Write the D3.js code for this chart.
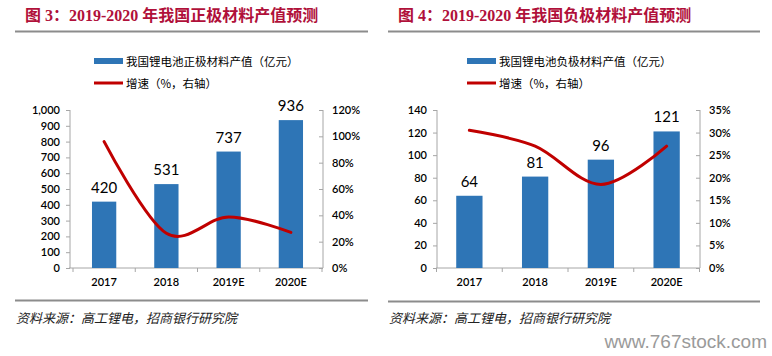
<!DOCTYPE html>
<html>
<head>
<meta charset="utf-8">
<script src="https://cdn.jsdelivr.net/npm/d3@7"></script>
<style>
  html, body { margin: 0; padding: 0; background: #fff; }
  svg { display: block; }
</style>
</head>
<body>
<svg id="chart" width="772" height="356"></svg>
<script>
// ---------- data ----------
const years = ["2017", "2018", "2019E", "2020E"];

const cathodeTitle = "图 3：2019-2020 年我国正极材料产值预测";
const cathodeBarName = "我国锂电池正极材料产值（亿元）";
const cathodeValues = [420, 531, 737, 936];
const cathodeGrowth = [96, 26.4, 38.8, 27];
const cathodeLeftTicks = [0, 100, 200, 300, 400, 500, 600, 700, 800, 900, 1000];
const cathodeRightTicks = [0, 20, 40, 60, 80, 100, 120];

const anodeTitle = "图 4：2019-2020 年我国负极材料产值预测";
const anodeBarName = "我国锂电池负极材料产值（亿元）";
const anodeValues = [64, 81, 96, 121];
const anodeGrowth = [30.5, 27, 18.5, 27];
const anodeLeftTicks = [0, 20, 40, 60, 80, 100, 120, 140];
const anodeRightTicks = [0, 5, 10, 15, 20, 25, 30, 35];

const lineName = "增速（%，右轴）";
const sourceText = "资料来源：高工锂电，招商银行研究院";
const watermark = "www.767stock.com";

// ---------- drawing ----------
const svg = d3.select("#chart");
const numFont = "Lato, 'Noto Sans CJK SC', sans-serif";
const cjkFont = "'Noto Sans CJK SC', sans-serif";
const BLUE = "#2E75B6";
const RED = "#C00000";
const AXIS = "#A6A6A6";

function drawPanel(cfg) {
  const g = svg.append("g");
  const top = 110, bottom = 268;

  // title
  g.append("text")
    .attr("x", cfg.titleX).attr("y", 21)
    .attr("font-family", "'Liberation Serif', 'Noto Sans CJK SC', serif")
    .attr("font-weight", "bold").attr("font-size", 16)
    .attr("fill", "#B0103A")
    .text(cfg.title);
  g.append("line")
    .attr("x1", cfg.ruleX1).attr("x2", cfg.ruleX2)
    .attr("y1", 31.5).attr("y2", 31.5)
    .attr("stroke", "#8C8C8C").attr("stroke-width", 1.8);
  g.append("line")
    .attr("x1", cfg.ruleX1).attr("x2", cfg.ruleX2)
    .attr("y1", cfg.footY).attr("y2", cfg.footY)
    .attr("stroke", "#8C8C8C").attr("stroke-width", 1.8);
  g.append("text")
    .attr("x", cfg.ruleX1 + 1).attr("y", 322.5)
    .attr("font-family", cjkFont).attr("font-style", "italic")
    .attr("font-size", 13).attr("fill", "#222")
    .text(sourceText);

  // scales
  const x = d3.scaleBand().domain(years).range(cfg.xRange).paddingInner(cfg.pad).paddingOuter(cfg.pad / 2);
  const xb = d3.scaleBand().domain(years).range(cfg.xRange);
  const yL = d3.scaleLinear().domain([0, d3.max(cfg.leftTicks)]).range([bottom, top]);
  const yR = d3.scaleLinear().domain([0, d3.max(cfg.rightTicks)]).range([bottom, top]);

  // left axis
  const axL = g.append("g").attr("transform", `translate(${cfg.axisL},0)`)
    .call(d3.axisLeft(yL).tickValues(cfg.leftTicks).tickSize(4).tickPadding(6)
      .tickFormat(d3.format(",")));
  // right axis
  const axR = g.append("g").attr("transform", `translate(${cfg.axisR},0)`)
    .call(d3.axisRight(yR).tickValues(cfg.rightTicks).tickSize(0).tickPadding(9)
      .tickFormat(d => d + "%"));
  axR.selectAll(".tick").append("line").attr("x1", -4).attr("x2", 0).attr("stroke", AXIS);
  // x axis
  const axX = g.append("g").attr("transform", `translate(0,${bottom})`)
    .call(d3.axisBottom(xb).tickSize(0).tickPadding(10));
  [axL, axR, axX].forEach(a => {
    a.select(".domain").attr("stroke", AXIS);
    a.selectAll(".tick line").attr("stroke", AXIS);
    a.selectAll("text").attr("font-family", numFont).attr("font-size", 11)
      .attr("font-weight", 600).attr("fill", "#000");
  });
  axL.select(".domain").attr("d", `M0,${top}V${bottom}`);
  axR.select(".domain").attr("d", `M0,${top}V${bottom}`);
  axX.select(".domain").attr("d", `M${cfg.axisL - 1},0H${cfg.axisR}`);
  // x band boundary ticks
  axX.selectAll(".bound").data(years.concat(["end"])).enter().append("line")
    .attr("x1", (d, i) => cfg.xRange[0] + i * xb.step())
    .attr("x2", (d, i) => cfg.xRange[0] + i * xb.step())
    .attr("y1", 0).attr("y2", 4).attr("stroke", AXIS);

  // bars
  g.selectAll(".bar").data(cfg.values).enter().append("rect")
    .attr("x", (d, i) => x(years[i]))
    .attr("width", x.bandwidth())
    .attr("y", d => yL(d))
    .attr("height", d => bottom - yL(d))
    .attr("fill", BLUE);
  g.selectAll(".lab").data(cfg.values).enter().append("text")
    .attr("x", (d, i) => x(years[i]) + x.bandwidth() / 2)
    .attr("y", d => yL(d) - 9)
    .attr("text-anchor", "middle")
    .attr("font-family", numFont).attr("font-size", 15).attr("fill", "#000")
    .text(d => d);

  // line
  const line = d3.line()
    .x((d, i) => x(years[i]) + x.bandwidth() / 2)
    .y(d => yR(d))
    .curve(d3.curveCardinal.tension(0));
  g.append("path").datum(cfg.growth)
    .attr("d", line).attr("fill", "none")
    .attr("stroke", RED).attr("stroke-width", 3).attr("stroke-linecap", "round");

  // legend
  const lg = g.append("g");
  lg.append("rect").attr("x", cfg.legX).attr("y", 58).attr("width", 29).attr("height", 6).attr("fill", BLUE);
  lg.append("text").attr("x", cfg.legX + 32).attr("y", 65.5)
    .attr("font-family", cjkFont).attr("font-size", 11.5).attr("fill", "#000")
    .text(cfg.barName);
  lg.append("line").attr("x1", cfg.legX).attr("x2", cfg.legX + 29).attr("y1", 83).attr("y2", 83)
    .attr("stroke", RED).attr("stroke-width", 3);
  lg.append("text").attr("x", cfg.legX + 32).attr("y", 87.5)
    .attr("font-family", cjkFont).attr("font-size", 11.5).attr("fill", "#000")
    .text(lineName);
}

drawPanel({
  title: cathodeTitle, titleX: 25, ruleX1: 15, ruleX2: 368, footY: 300.5,
  barName: cathodeBarName, values: cathodeValues, growth: cathodeGrowth,
  leftTicks: cathodeLeftTicks, rightTicks: cathodeRightTicks,
  xRange: [73, 322], pad: 0.61, axisL: 70, axisR: 323, legX: 94
});
drawPanel({
  title: anodeTitle, titleX: 398, ruleX1: 388, ruleX2: 760, footY: 301.5,
  barName: anodeBarName, values: anodeValues, growth: anodeGrowth,
  leftTicks: anodeLeftTicks, rightTicks: anodeRightTicks,
  xRange: [436.5, 699.5], pad: 0.6, axisL: 437, axisR: 700, legX: 467
});

svg.append("text")
  .attr("x", 767).attr("y", 348).attr("text-anchor", "end")
  .attr("font-family", "'Liberation Sans', Arial, sans-serif")
  .attr("font-size", 19).attr("fill", "#9A9A9A")
  .text(watermark);
</script>
</body>
</html>
